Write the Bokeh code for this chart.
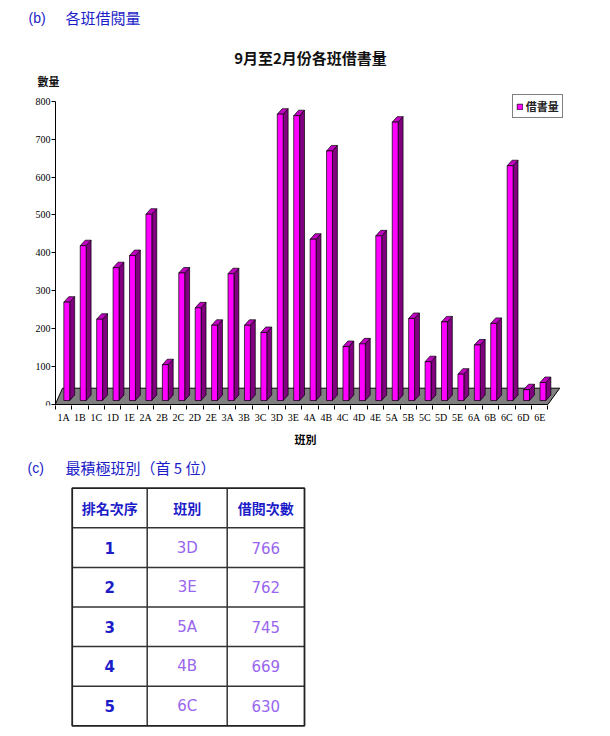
import numpy as np
from bokeh.plotting import figure
from bokeh.models import Range1d, FixedTicker, Label, Legend, LegendItem, LinearAxis
from bokeh.layouts import column
from bokeh.embed import file_html
from bokeh.resources import INLINE
from bokeh.core.properties import value

# ---------------- data ----------------
classes = ["1A", "1B", "1C", "1D", "1E", "2A", "2B", "2C", "2D", "2E",
           "3A", "3B", "3C", "3D", "3E", "4A", "4B", "4C", "4D", "4E",
           "5A", "5B", "5C", "5D", "5E", "6A", "6B", "6C", "6D", "6E"]
loans = [270, 419, 225, 361, 393, 502, 105, 347, 255, 209,
         345, 209, 190, 766, 762, 436, 669, 153, 160, 445,
         745, 227, 113, 218, 80, 157, 214, 630, 39, 58]
y_ticks = [0, 100, 200, 300, 400, 500, 600, 700, 800]

table_headers = ["排名次序", "班別", "借閱次數"]
ranks = ["1", "2", "3", "4", "5"]
top_classes = ["3D", "3E", "5A", "4B", "6C"]
top_counts = ["766", "762", "745", "669", "630"]

BLUE = "#1c1cc8"
PURPLE = "#9966ee"
CJK = "Noto Sans CJK TC"
SERIF = "Liberation Serif"

# ---------------- chart ----------------
W = 610
CH = 452            # chart canvas height
FB = 405            # frame bottom (px from top)
PX = 16.42          # px per class
X0 = 63.0           # px of first class centre
SY = 0.379          # px per unit
Y_START = -2.64

n = len(classes)
p = figure(width=W, height=CH,
           x_range=Range1d(-X0 / PX, (W - X0) / PX),
           y_range=Range1d(Y_START, Y_START + FB / SY),
           output_backend="svg", toolbar_location=None, y_axis_type=None,
           min_border_left=0, min_border_right=0, min_border_top=0, min_border_bottom=CH - FB)
p.grid.visible = False
p.outline_line_color = None
p.background_fill_color = "white"
p.border_fill_color = "white"

# floor
p.patch([-0.5, n - 0.5, n - 0.5 + 0.72, -0.5 + 0.44], [0, 0, 43, 43],
        fill_color="#808080", line_color="black", line_width=1)

xi = np.arange(n)
fx0 = xi + 0.02
fx1 = xi + 0.38
dx = 0.30
dy = 14.5
base = 10.5
front_xs = [[a, b, b, a] for a, b in zip(fx0, fx1)]
front_ys = [[base, base, v, v] for v in loans]
side_xs = [[b, b + dx, b + dx, b] for b in fx1]
side_ys = [[base, base + dy, v + dy, v] for v in loans]
top_xs = [[a, b, b + dx, a + dx] for a, b in zip(fx0, fx1)]
top_ys = [[v, v, v + dy, v + dy] for v in loans]

p.patches(side_xs, side_ys, fill_color="#800080", line_color="black", line_width=0.7)
p.patches(top_xs, top_ys, fill_color="#c000c0", line_color="black", line_width=0.7)
front = p.patches(front_xs, front_ys, fill_color="#ff00ff", line_color="black", line_width=0.7)

# x axis
xa = p.xaxis[0]
xa.ticker = FixedTicker(ticks=list(range(n)), minor_ticks=[i - 0.5 for i in range(n + 1)])
xa.major_label_overrides = {i: c for i, c in enumerate(classes)}
xa.axis_line_color = None
xa.major_tick_line_color = None
xa.major_tick_out = 0
xa.major_tick_in = 0
xa.minor_tick_out = 4
xa.minor_tick_in = 0
xa.minor_tick_line_color = "black"
xa.major_label_standoff = 2
xa.major_label_text_font = SERIF
xa.major_label_text_font_size = "10px"
xa.major_label_text_color = "black"
xa.axis_label = "班別"
xa.axis_label_text_font = CJK
xa.axis_label_text_font_style = "bold"
xa.axis_label_text_font_size = "11px"
xa.axis_label_standoff = 5
xa.axis_label_text_color = "black"

# y axis at the floor's left edge
ya = LinearAxis(fixed_location=(55 - X0) / PX, bounds=(0, 800),
                ticker=FixedTicker(ticks=y_ticks, minor_ticks=[]))
ya.axis_line_color = "black"
ya.major_tick_out = 4
ya.major_tick_in = 0
ya.major_tick_line_color = "black"
ya.minor_tick_line_color = None
ya.major_label_standoff = 1
ya.major_label_text_font = SERIF
ya.major_label_text_font_size = "10px"
ya.major_label_text_color = "black"
p.add_layout(ya, "left")

legend = Legend(items=[LegendItem(label="借書量", renderers=[front])],
                location=(511.7, FB - 118.3), glyph_width=7, glyph_height=7,
                label_text_font=CJK, label_text_font_style="bold", label_text_font_size="11px",
                label_text_color="#222222", label_standoff=3, label_height=12,
                padding=3, spacing=0, margin=0, border_line_color="black",
                border_line_width=1, background_fill_color="white", background_fill_alpha=1)
p.add_layout(legend)

# texts (screen units from frame bottom-left)
p.add_layout(Label(x=28, y=FB - 17, x_units="screen", y_units="screen", text="(b)",
                   text_font="Liberation Sans", text_font_size="14px", text_color=BLUE,
                   text_baseline="middle"))
p.add_layout(Label(x=65, y=FB - 17, x_units="screen", y_units="screen", text="各班借閱量",
                   text_font=CJK, text_font_size="15px", text_color=BLUE,
                   text_baseline="middle"))
p.add_layout(Label(x=310, y=FB - 57, x_units="screen", y_units="screen", text="9月至2月份各班借書量",
                   text_font=CJK, text_font_size="15px", text_font_style="bold", text_color="#111111",
                   text_baseline="middle", text_align="center"))
p.add_layout(Label(x=37, y=FB - 80, x_units="screen", y_units="screen", text="數量",
                   text_font=CJK, text_font_size="11px", text_font_style="bold", text_color="#111111",
                   text_baseline="middle"))

# ---------------- table ----------------
TH = 736 - CH
q = figure(width=W, height=TH, x_range=Range1d(0, W), y_range=Range1d(736, CH),
           output_backend="svg", toolbar_location=None, x_axis_type=None, y_axis_type=None,
           min_border=0)
q.grid.visible = False
q.outline_line_color = None
q.background_fill_color = "white"
q.border_fill_color = "white"

q.text([27], [467], text=["(c)"], text_font=value("Liberation Sans"), text_font_size="14px",
       text_color=BLUE, text_baseline="middle")
q.text([65], [467], text=["最積極班別（首 5 位）"], text_font=value(CJK), text_font_size="15px",
       text_color=BLUE, text_baseline="middle")

col_edges = [71.7, 146.7, 226.7, 304.0]
row_top = 487.7
row_h = 39.6
n_rows = len(ranks) + 1
row_edges = [row_top + k * row_h for k in range(n_rows + 1)]

q.multi_line([[c, c] for c in col_edges[1:-1]], [[row_edges[0], row_edges[-1]]] * (len(col_edges) - 2),
             line_color="#333333", line_width=1.5)
q.multi_line([[col_edges[0], col_edges[-1]]] * (len(row_edges) - 2), [[r, r] for r in row_edges[1:-1]],
             line_color="#333333", line_width=1.5)
q.quad(left=[col_edges[0]], right=[col_edges[-1]], top=[row_edges[0]], bottom=[row_edges[-1]],
       fill_color=None, line_color="#222222", line_width=1.8)

col_cx = [(col_edges[k] + col_edges[k + 1]) / 2 for k in range(3)]
row_cy = [(row_edges[k] + row_edges[k + 1]) / 2 for k in range(n_rows)]

q.text(col_cx, [row_cy[0]] * 3, text=table_headers, text_font=value(CJK), text_font_size="14px",
       text_font_style="bold", text_color=BLUE, text_align="center", text_baseline="middle")
q.text([col_cx[0]] * 5, row_cy[1:], text=ranks, text_font=value("DejaVu Sans"), text_font_size="15px",
       text_font_style="bold", text_color=BLUE, text_align="center", text_baseline="middle")
q.text([col_cx[1]] * 5, row_cy[1:], text=top_classes, text_font=value("DejaVu Sans"), text_font_size="15px",
       text_color=PURPLE, text_align="center", text_baseline="middle")
q.text([col_cx[2]] * 5, row_cy[1:], text=top_counts, text_font=value("DejaVu Sans"), text_font_size="15px",
       text_color=PURPLE, text_align="center", text_baseline="middle")

layout = column(p, q, spacing=0)
open("out.html", "w").write(file_html(layout, INLINE))
